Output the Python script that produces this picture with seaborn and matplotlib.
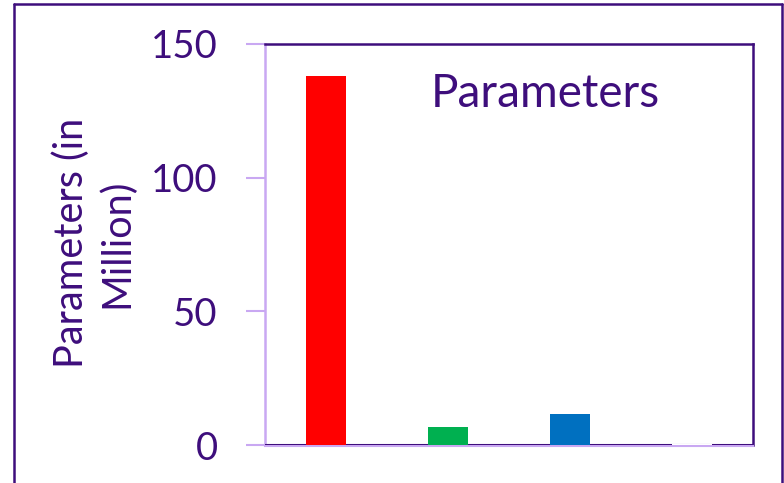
import matplotlib
matplotlib.use("Agg")
import matplotlib.pyplot as plt
from matplotlib.lines import Line2D
import seaborn as sns
import pandas as pd

# Data
models = ["Model A", "Model B", "Model C", "Model D"]
params_million = [138, 6.7, 11.6, 0.4]
bar_colors = ["#FF0000", "#00B050", "#0070C0", "#FFFFFF"]
y_ticks = [0, 50, 100, 150]

DARK = "#3E0E7C"
LAVENDER = "#C9A8F2"

sns.set_theme(style="white")
plt.rcParams["font.family"] = ["Lato", "DejaVu Sans"]

df = pd.DataFrame({"model": models, "params": params_million})

fig = plt.figure(figsize=(7.84, 4.83), dpi=100)
ax = fig.add_axes([265 / 784, 1 - 445 / 483, (753 - 265) / 784, (445 - 44) / 483])

sns.barplot(data=df, x="model", y="params", hue="model", palette=bar_colors,
            width=0.32, dodge=False, legend=False, ax=ax, zorder=3,
            linewidth=0, saturation=1)

ax.set_ylim(0, 150)
ax.set_xlim(-0.5, len(models) - 0.5)
ax.set_yticks(y_ticks)
ax.set_yticklabels([str(t) for t in y_ticks], fontsize=27.5, color=DARK)
ax.tick_params(axis="y", length=14, width=1.5, color=LAVENDER, pad=20, left=True)
ax.set_xticks([])
ax.set_xlabel("")
ax.set_ylabel("Parameters (in\nMillion)", fontsize=28.5, color=DARK,
              linespacing=1.25)
ax.yaxis.set_label_coords(-0.265, 0.504)

# Frame: dark top/right, light axis lines on the left and bottom
for side in ["top", "right"]:
    ax.spines[side].set_visible(True)
    ax.spines[side].set_color(DARK)
    ax.spines[side].set_linewidth(1.8)
ax.spines["left"].set_color(LAVENDER)
ax.spines["left"].set_linewidth(1.8)
ax.spines["bottom"].set_color(LAVENDER)
ax.spines["bottom"].set_linewidth(1.5)
ax.spines["bottom"].set_position(("outward", 1))
ax.axhline(0, color=DARK, lw=2.2, zorder=2.9)

ax.text(0.574, 0.843, "Parameters", transform=ax.transAxes, fontsize=33,
        color=DARK, ha="center", va="baseline")

# Outer figure border (left, top, right)
for xs, ys in [([14 / 784, 14 / 784], [0, 1 - 4 / 483]),
               ([14 / 784, 782 / 784], [1 - 4 / 483, 1 - 4 / 483]),
               ([782 / 784, 782 / 784], [1 - 4 / 483, 0])]:
    fig.add_artist(Line2D(xs, ys, transform=fig.transFigure, color=DARK, lw=1.8))

fig.savefig("out.png", dpi=100)
